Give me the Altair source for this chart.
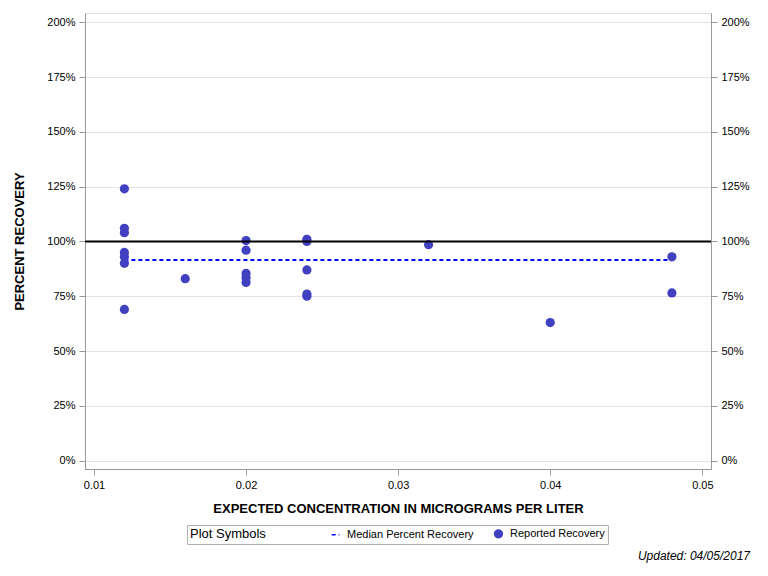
import altair as alt
import pandas as pd

# Data
conc = [0.012, 0.012, 0.012, 0.012, 0.012, 0.012, 0.012,
        0.016,
        0.02, 0.02, 0.02, 0.02, 0.02,
        0.024, 0.024, 0.024, 0.024, 0.024,
        0.032, 0.04, 0.048, 0.048]
recovery = [124, 106, 104, 95, 93, 90, 69,
            83,
            100.4, 96, 85.4, 83.4, 81.3,
            101, 100, 87, 76, 75,
            98.5, 63, 93, 76.5]
median_start = [0.012]
median_end = [0.048]
median_value = [91.5]
reference_value = [100]
series_names = ["Median Percent Recovery", "Reported Recovery"]
y_ticks = [0, 25, 50, 75, 100, 125, 150, 175, 200]
x_ticks = [0.01, 0.02, 0.03, 0.04, 0.05]

FONT = "Liberation Sans"
XDOM = [0.00941, 0.05057]
YDOM = [-3.8, 204.2]

pts = pd.DataFrame({"conc": conc, "rec": recovery, "series": series_names[1]})
med = pd.DataFrame({"x1": median_start, "x2": median_end, "y": median_value,
                    "series": series_names[0]})
ref = pd.DataFrame({"y": reference_value})

xscale = alt.Scale(domain=XDOM, nice=False, zero=False)
yscale = alt.Scale(domain=YDOM, nice=False, zero=False)

legend = alt.Legend(
    title="Plot Symbols", titleOrient="left", orient="none",
    legendX=102, legendY=512, direction="horizontal",
    strokeColor="#b0b0b0", padding=3, cornerRadius=0,
    titleFont=FONT, titleFontSize=13, titleFontWeight="normal", titleColor="black",
    labelFont=FONT, labelFontSize=11, labelColor="black",
    symbolSize=60, symbolStrokeWidth=1.5, columnPadding=17, titlePadding=64,
    labelOffset=6,
)

xaxis = alt.Axis(values=x_ticks, format=".2f", title="EXPECTED CONCENTRATION IN MICROGRAMS PER LITER",
                 grid=False, tickColor="#999999", domainColor="#999999", tickSize=6,
                 labelFont=FONT, labelFontSize=11, labelColor="black",
                 titleFont=FONT, titleFontSize=13, titleFontWeight="bold", titleColor="black",
                 titlePadding=12, labelPadding=4)

def yaxis(orient, title):
    kw = dict(orient=orient, values=y_ticks, labelExpr="datum.value + '%'",
              tickColor="#999999", domainColor="#999999", tickSize=6,
              labelFont=FONT, labelFontSize=11, labelColor="black", labelPadding=4,
              gridColor="#e4e4e4", grid=(orient == "left"))
    if title:
        kw.update(title=title, titleFont=FONT, titleFontSize=13, titleFontWeight="bold",
                  titleColor="black", titlePadding=20)
    else:
        kw.update(title=None)
    return alt.Axis(**kw)

left_axis = yaxis("left", "PERCENT RECOVERY")

points = alt.Chart(pts).mark_point(filled=True, opacity=1).encode(
    x=alt.X("conc:Q", scale=xscale, axis=xaxis),
    y=alt.Y("rec:Q", scale=yscale, axis=left_axis),
    color=alt.Color("series:N", scale=alt.Scale(domain=series_names, range=["#0000ff", "#4040c0"]),
                    legend=legend),
    shape=alt.Shape("series:N", scale=alt.Scale(domain=series_names, range=["stroke", "circle"]),
                    legend=legend),
    size=alt.value(85),
)

median = alt.Chart(med).mark_rule(strokeWidth=2).encode(
    x=alt.X("x1:Q", scale=xscale, axis=xaxis),
    x2="x2:Q",
    y=alt.Y("y:Q", scale=yscale, axis=left_axis),
    color=alt.Color("series:N", scale=alt.Scale(domain=series_names, range=["#0000ff", "#4040c0"]),
                    legend=legend),
    strokeDash=alt.StrokeDash("series:N",
                              scale=alt.Scale(domain=series_names, range=[[4, 3], [1, 0]]),
                              legend=legend),
)

refline = alt.Chart(ref).mark_rule(color="black", strokeWidth=2).encode(
    y=alt.Y("y:Q", scale=yscale, axis=yaxis("right", None)),
)

inner = alt.layer(median, points)

chart = alt.layer(inner, refline).resolve_scale(y="independent").properties(
    width=626, height=456,
    autosize=alt.AutoSizeParams(type="none"),
    padding={"left": 77, "top": 5, "right": 49, "bottom": 99},
    title=alt.TitleParams("Updated: 04/05/2017", orient="bottom", anchor="end",
                          font=FONT, fontSize=12, fontStyle="italic", fontWeight="normal",
                          color="black", offset=6, dx=39, frame="group"),
).configure_view(stroke="#999999", strokeWidth=1).configure(background="white")

chart.save("out.html", embed_options={"renderer": "svg", "actions": False})
